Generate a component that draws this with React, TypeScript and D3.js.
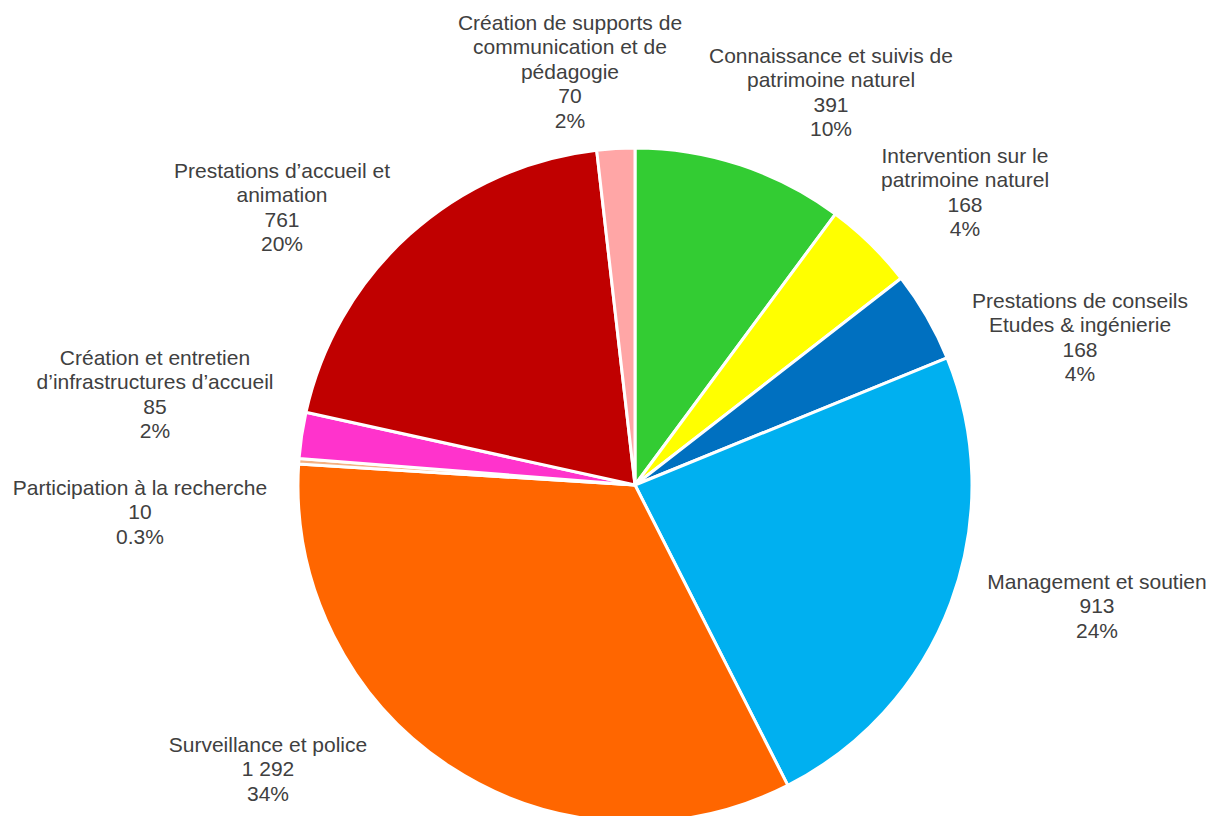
import React from "react";
import * as d3 from "d3";

const categories: string[][] = [
  ["Connaissance et suivis de", "patrimoine naturel"],
  ["Intervention sur le", "patrimoine naturel"],
  ["Prestations de conseils", "Etudes & ingénierie"],
  ["Management et soutien"],
  ["Surveillance et police"],
  ["Participation à la recherche"],
  ["Création et entretien", "d\u2019infrastructures d\u2019accueil"],
  ["Prestations d\u2019accueil et", "animation"],
  ["Création de supports de", "communication et de", "pédagogie"],
];
const values: number[] = [391, 168, 168, 913, 1292, 10, 85, 761, 70];
const valueLabels: string[] = ["391", "168", "168", "913", "1 292", "10", "85", "761", "70"];
const percentLabels: string[] = ["10%", "4%", "4%", "24%", "34%", "0.3%", "2%", "20%", "2%"];

const colors = ["#33CC33", "#FFFF00", "#0070C0", "#00B0F0", "#FF6600", "#F4B183", "#FF33CC", "#C00000", "#FFA6A6"];
// label anchor (center x, first line center y)
const labelPos: [number, number][] = [
  [831, 55],
  [965, 155],
  [1080, 300],
  [1097, 581],
  [268, 744],
  [140, 487],
  [155, 357],
  [282, 170],
  [570, 22],
];

const W = 1211, H = 816;
const cx = 635, cy = 485, R = 337;
const lineH = 24.6;

export default function App() {
  const pie = d3.pie<number>().sort(null).value((d) => d)(values);
  const arc = d3.arc<d3.PieArcDatum<number>>().innerRadius(0).outerRadius(R);
  return (
    <svg width={W} height={H} style={{ position: "absolute", left: 0, top: 0, background: "#fff" }}>
      <g transform={`translate(${cx},${cy})`}>
        {pie.map((p, i) => (
          <path key={i} d={arc(p) || ""} fill={colors[i]} stroke="#fff" strokeWidth={3} strokeLinejoin="round" />
        ))}
      </g>
      {categories.map((lines, i) => {
        const all = [...lines, valueLabels[i], percentLabels[i]];
        const [x, y] = labelPos[i];
        return (
          <text key={i} fontFamily="Liberation Sans, Arial, sans-serif" fontSize={21} fill="#404040" textAnchor="middle">
            {all.map((t, j) => (
              <tspan key={j} x={x} y={y + j * lineH} dominantBaseline="central">{t}</tspan>
            ))}
          </text>
        );
      })}
    </svg>
  );
}
